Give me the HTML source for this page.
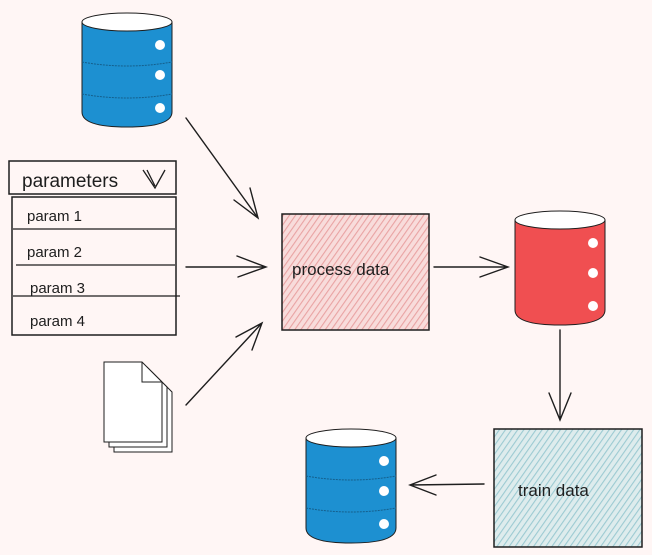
<!DOCTYPE html>
<html><head><style>
html,body{margin:0;padding:0;background:#fff6f5;}
svg{display:block;}
text{font-family:"Liberation Sans",sans-serif;fill:#1e1e1e;}
</style></head><body>
<svg width="652" height="555" viewBox="0 0 652 555" xmlns="http://www.w3.org/2000/svg">
<defs>
<pattern id="hp" width="5" height="5" patternUnits="userSpaceOnUse" patternTransform="rotate(35)">
<rect width="5" height="5" fill="#f8dcdb"/><line x1="0" y1="0" x2="0" y2="5" stroke="#e9a3a3" stroke-width="2.2"/></pattern>
<pattern id="hb" width="5" height="5" patternUnits="userSpaceOnUse" patternTransform="rotate(35)">
<rect width="5" height="5" fill="#deeced"/><line x1="0" y1="0" x2="0" y2="5" stroke="#9ccad2" stroke-width="2.2"/></pattern>
<g id="db">
<path d="M0,10 L0,100 Q0,115 45,115 Q90,115 90,100 L90,10 Z" stroke="#1e1e1e" stroke-width="1" />
<ellipse cx="45" cy="10" rx="45" ry="9" fill="#fff" stroke="#1e1e1e" stroke-width="1"/>
<circle cx="78" cy="33" r="5" fill="#fff"/><circle cx="78" cy="63" r="5" fill="#fff"/><circle cx="78" cy="96" r="5" fill="#fff"/>
</g>
</defs>

<g transform="translate(82,12)" fill="#1d90d1"><use href="#db"/>
<path d="M0,50 Q45,58 90,50 M0,82 Q45,90 90,82" stroke="#155f8c" stroke-width="1" fill="none" stroke-dasharray="2 1"/></g>
<g transform="translate(515,210)" fill="#f04f51"><use href="#db"/></g>
<g transform="translate(306,428)" fill="#1d90d1"><use href="#db"/>
<path d="M0,48 Q45,56 90,48 M0,80 Q45,88 90,80" stroke="#155f8c" stroke-width="1" fill="none" stroke-dasharray="2 1"/></g>

<rect x="9" y="161" width="167" height="33" fill="#fff6f5" stroke="#1e1e1e" stroke-width="1.5"/>
<text x="22" y="187" font-size="19">parameters</text>
<path d="M143,170 L155,188 L165,170 M147,170 L155,186" stroke="#1e1e1e" stroke-width="1.3" fill="none"/>
<rect x="12" y="197" width="164" height="138" fill="#fff6f5" stroke="#1e1e1e" stroke-width="1.5"/>
<path d="M13,229 L175,229 M16,265 L175,265 M13,296 L180,296" stroke="#1e1e1e" stroke-width="1.3"/>
<text x="27" y="221" font-size="15">param 1</text>
<text x="27" y="257" font-size="15">param 2</text>
<text x="30" y="293" font-size="15">param 3</text>
<text x="30" y="326" font-size="15">param 4</text>

<g stroke="#1e1e1e" stroke-width="1" fill="#fff">
<path d="M114,372 L152,372 L172,392 L172,452 L114,452 Z"/>
<path d="M109,367 L147,367 L167,387 L167,447 L109,447 Z"/>
<path d="M104,362 L142,362 L162,382 L162,442 L104,442 Z"/>
<path d="M142,362 L142,382 L162,382" fill="none"/>
</g>

<rect x="282" y="214" width="147" height="116" fill="url(#hp)" stroke="#1e1e1e" stroke-width="1.5"/>
<text x="292" y="275" font-size="17">process data</text>
<rect x="494" y="429" width="148" height="118" fill="url(#hb)" stroke="#1e1e1e" stroke-width="1.5"/>
<text x="518" y="496" font-size="17">train data</text>

<g stroke="#1e1e1e" stroke-width="1.4" fill="none" stroke-linecap="round">
<path d="M186,118 L258,218 M234,200 L258,218 L250,188"/>
<path d="M186,267 L266,267 M237,256 L266,267 L238,277"/>
<path d="M186,405 L262,323 M236,337 L262,323 L252,350"/>
<path d="M434,267 L508,267 M480,257 L508,267 L480,277"/>
<path d="M560,330 L560,420 M549,393 L560,420 L571,393"/>
<path d="M484,484 L410,485 M436,475 L410,485 L436,495"/>
</g>
</svg>
</body></html>
